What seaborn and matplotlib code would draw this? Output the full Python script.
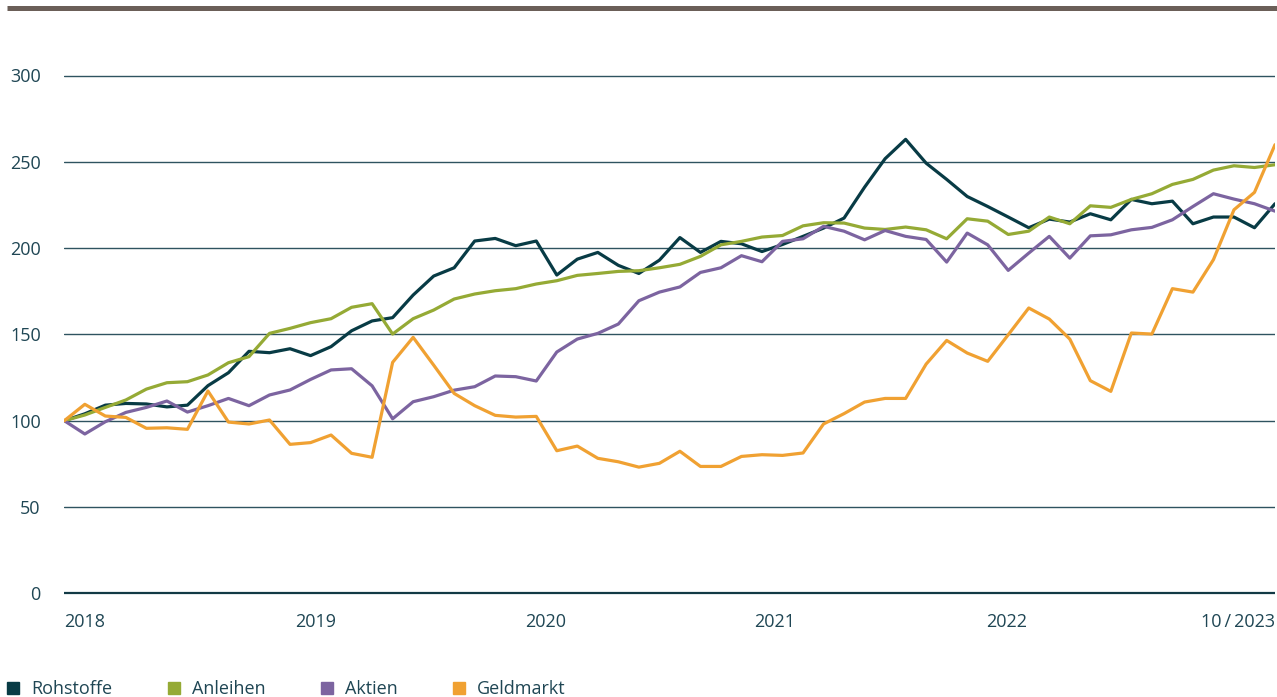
import numpy as np
import pandas as pd
import matplotlib
matplotlib.use("Agg")
import matplotlib.pyplot as plt
from matplotlib.lines import Line2D
import seaborn as sns

# ---------------- data ----------------
series_names = ["Rohstoffe", "Anleihen", "Aktien", "Geldmarkt"]

rohstoffe = [100, 104, 109, 110, 109.7, 108, 109, 120.3, 127.8, 140.2,
             139.4, 141.7, 137.7, 142.9, 152.1, 157.8, 159.7, 172.8, 183.8, 188.6,
             204.1, 205.6, 201.4, 204.1, 184.4, 193.6, 197.5, 190, 185.3, 193,
             206.1, 197.5, 203.9, 202.5, 198, 202.1, 206.8, 211.6, 217.4, 235.3,
             251.8, 263, 249.2, 239.8, 229.9, 224.1, 218, 211.8, 216.8, 215.1,
             219.9, 216.4, 228.2, 225.7, 227.2, 214.1, 218, 218, 211.8, 225.7]

anleihen = [100, 103.3, 107.7, 112, 118.3, 122, 122.6, 126.5, 133.6, 137.1,
            150.6, 153.5, 156.8, 159.1, 165.7, 167.8, 150.2, 159.1, 164.1, 170.5,
            173.4, 175.3, 176.5, 179.2, 181.1, 184.2, 185.3, 186.5, 186.9, 188.6,
            190.6, 195.2, 201.9, 203.9, 206.4, 207.3, 212.9, 214.7, 214.5, 211.6,
            210.8, 212.2, 210.6, 205.4, 217, 215.6, 207.9, 209.8, 218, 214.1,
            224.5, 223.6, 228.2, 231.5, 236.9, 239.8, 245.2, 247.7, 246.7, 248.3]

aktien = [100, 92.3, 99.4, 104.8, 107.7, 111.4, 105, 108.7, 112.9, 108.7,
          114.9, 117.8, 123.9, 129.4, 130.1, 120.2, 101.1, 111, 113.9, 117.7,
          119.7, 125.9, 125.5, 123, 139.8, 147.3, 150.6, 156, 169.5, 174.5,
          177.5, 185.9, 188.6, 195.6, 192.1, 203.9, 205.4, 212.6, 209.8, 204.8,
          210.2, 206.8, 205, 191.9, 208.7, 201.9, 187.1, 197.1, 206.8, 194.2,
          207.1, 207.7, 210.6, 212, 216.4, 224.1, 231.5, 228.4, 225.7, 221.4]

geldmarkt = [100, 109.5, 102.7, 101.9, 95.6, 95.9, 95, 117.2, 99.2, 98.1,
             100.4, 86.3, 87.3, 91.7, 81.1, 78.8, 133.8, 148.3, 132.2, 115.8,
             108.7, 103.1, 102.1, 102.5, 82.6, 85.3, 78.2, 76.2, 73.1, 75.3,
             82.3, 73.5, 73.5, 79.3, 80.3, 79.9, 81.3, 98.1, 104.1, 110.8,
             112.9, 112.9, 132.8, 146.5, 139.2, 134.4, 149.8, 165.3, 158.9, 147.3,
             123.2, 117, 150.8, 150.2, 176.5, 174.5, 193.3, 222.2, 232.3, 259.9]

x_tick_pos = [0, 12.24, 23.47, 34.63, 45.9, 59]
x_tick_labels = ["2018", "2019", "2020", "2021", "2022", "10\u2009/\u20092023"]
y_ticks = [0, 50, 100, 150, 200, 250, 300]

colors = ["#083b45", "#95aa35", "#7c64a0", "#f0a132"]
text_color = "#1f4654"
grid_color = "#2f5360"

# ---------------- build frame ----------------
idx = np.arange(len(rohstoffe))
df = pd.concat([
    pd.DataFrame({"idx": idx, "value": vals, "series": name})
    for name, vals in zip(series_names, [rohstoffe, anleihen, aktien, geldmarkt])
], ignore_index=True)

sns.set_style("white")
plt.rcParams["font.family"] = ["Open Sans", "DejaVu Sans"]

W, H = 1277, 697
fig = plt.figure(figsize=(W / 100, H / 100), dpi=100)

# axes geometry in pixels
x0_px, x1_px = 64.3, 1275.0
y0_px = 593.3            # value 0
px_per_unit = 1.726
ymin, ymax = -5, 310
ax_bottom = (H - (y0_px + (-ymin) * px_per_unit)) / H
ax_height = (ymax - ymin) * px_per_unit / H
ax = fig.add_axes([x0_px / W, ax_bottom, (x1_px - x0_px) / W, ax_height])

sns.lineplot(data=df, x="idx", y="value", hue="series", hue_order=series_names,
             palette=colors, linewidth=2.3, ax=ax, legend=False, zorder=3)

ax.set_xlim(0, len(rohstoffe) - 1)
ax.set_ylim(ymin, ymax)

# grid lines
for yv in y_ticks:
    ax.axhline(yv, color=grid_color if yv else "#123a45",
               lw=1.0 if yv else 1.6, zorder=1)

for s in ax.spines.values():
    s.set_visible(False)
ax.grid(False)

ax.set_yticks(y_ticks)
ax.set_yticklabels([str(v) for v in y_ticks])
ax.set_xticks(x_tick_pos)
ax.set_xticklabels(x_tick_labels)
ax.tick_params(axis="both", length=0, labelsize=13, labelcolor=text_color)
ax.tick_params(axis="y", pad=17)
ax.tick_params(axis="x", pad=8)
xl = ax.get_xticklabels()
xl[0].set_ha("left")
xl[-1].set_ha("right")
ax.set_xlabel("")
ax.set_ylabel("")

# top decorative bar
fig.add_artist(Line2D([7 / W, 1.0], [1 - 7.5 / H, 1 - 7.5 / H],
                      transform=fig.transFigure, color="#6b5f58", lw=3.6,
                      solid_capstyle="butt"))

# legend
handles = [Line2D([], [], marker="s", linestyle="none", markersize=8.6,
                  markerfacecolor=c, markeredgecolor=c) for c in colors]
fig.legend(handles, series_names, loc="center left",
           bbox_to_anchor=(7 / W, 1 - 689 / H), ncol=4, frameon=False,
           fontsize=13, labelcolor=text_color, handlelength=0.7,
           handletextpad=0.65, columnspacing=3.05, borderpad=0,
           borderaxespad=0)

fig.savefig("out.png", dpi=100)
